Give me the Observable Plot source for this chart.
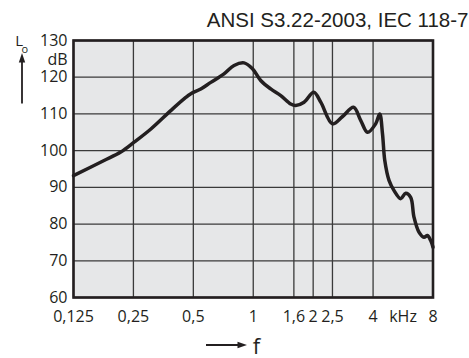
<!DOCTYPE html>
<html><head><meta charset="utf-8">
<script src="https://cdn.jsdelivr.net/npm/d3@7"></script>
<script src="https://cdn.jsdelivr.net/npm/@observablehq/plot@0.6"></script>
<style>html,body{margin:0;padding:0;background:#fff;}</style>
</head><body><div id="chart"></div>
<script>
// Frequency (kHz) and output level (dB)
const freqKHz = [0.125, 0.178, 0.216, 0.252, 0.306, 0.385, 0.458, 0.486, 0.545, 0.612, 0.713, 0.801, 0.899, 0.991, 1.09, 1.224, 1.375, 1.543, 1.635, 1.80, 2.014, 2.184, 2.50, 2.81, 3.19, 3.47, 3.75, 4.12, 4.32, 4.46, 4.58, 4.81, 5.10, 5.51, 5.83, 6.18, 6.42, 6.80, 7.21, 7.50, 7.79, 8.0];
const levelDB = [93.2, 97.3, 99.6, 102.3, 105.9, 110.9, 114.5, 115.5, 116.8, 118.6, 120.9, 123.2, 123.9, 122.3, 119.1, 116.8, 115.0, 112.7, 112.3, 113.2, 115.9, 113.2, 107.3, 109.3, 111.8, 108.2, 105.0, 107.3, 110.0, 104.6, 97.3, 91.9, 89.1, 86.9, 88.4, 87.3, 81.9, 77.8, 76.4, 76.9, 75.5, 73.7];
const gridFreqs = [0.125, 0.25, 0.5, 1, 1.6, 2, 2.5, 4, 8];
const xTickValues = [0.125, 0.25, 0.5, 1, 1.6, 2, 2.5, 4, 5.657, 8];
const xTickLabels = ["0,125", "0,25", "0,5", "1", "1,6", "2", "2,5", "4", "kHz", "8"];
const yTickValues = [60, 70, 80, 90, 100, 110, 120, 130];
const titleText = "ANSI S3.22-2003, IEC 118-7";
const yUnit = "dB";
const yName = "L";
const ySub = "o";
const xName = "f";

const data = freqKHz.map((f, i) => ({f, L: levelDB[i]}));
const ink = "#231f20";
const gridColor = "#3a3a3a";
const sansA = "'Liberation Sans', Arial, sans-serif";

const plot = Plot.plot({
  width: 469, height: 358,
  marginLeft: 73, marginRight: 36.5, marginTop: 40, marginBottom: 61,
  style: {fontFamily: "'Open Sans', sans-serif", fontSize: "16px", color: ink, background: "#fff", overflow: "visible"},
  x: {type: "log", domain: [0.125, 8], axis: null},
  y: {domain: [60, 130], axis: null},
  marks: [
    Plot.frame({fill: "#e6e7e8", stroke: null}),
    Plot.gridX(gridFreqs, {stroke: gridColor, strokeOpacity: 1, strokeWidth: 1.3}),
    Plot.gridY(yTickValues, {stroke: gridColor, strokeOpacity: 1, strokeWidth: 1.3}),
    Plot.line(data, {x: "f", y: "L", stroke: ink, strokeWidth: 3.5, curve: "catmull-rom", strokeLinejoin: "round"}),
    Plot.frame({stroke: ink, strokeWidth: 2.6}),
    Plot.text(xTickValues, {x: d => d, text: (d, i) => xTickLabels[i], frameAnchor: "bottom", dy: 13, lineAnchor: "top", textAnchor: "middle", fontSize: 16, fill: ink}),
    Plot.text(yTickValues, {y: d => d, text: d => String(d), frameAnchor: "left", dx: -6, textAnchor: "end", lineAnchor: "middle", fontSize: 16, fill: ink}),
    Plot.text([yUnit], {frameAnchor: "top-left", dx: -6, dy: 19, textAnchor: "end", lineAnchor: "middle", fontSize: 16, fill: ink}),
    Plot.text([yName], {frameAnchor: "top-left", dx: -54.3, dy: 0.5, textAnchor: "middle", lineAnchor: "middle", fontSize: 15, fill: ink}),
    Plot.text([ySub], {frameAnchor: "top-left", dx: -48.8, dy: 8.5, textAnchor: "middle", lineAnchor: "middle", fontSize: 11, fill: ink}),
    Plot.text([xName], {frameAnchor: "bottom-left", dx: 183, dy: 49, textAnchor: "middle", lineAnchor: "middle", fontSize: 22, fill: ink}),
    Plot.text([titleText], {frameAnchor: "top-right", dx: 35.5, dy: -20.5, textAnchor: "end", lineAnchor: "middle", fontSize: 20.5, fontFamily: sansA, fill: ink})
  ]
});
document.getElementById("chart").appendChild(plot);

// decorative axis arrows
const svg = d3.select(plot);
const g = svg.append("g").attr("fill", ink).attr("stroke", ink);
g.append("line").attr("x1", 22).attr("x2", 22).attr("y1", 103.5).attr("y2", 60).attr("stroke-width", 1.8);
g.append("polygon").attr("points", "22,53 18.8,62.5 25.2,62.5").attr("stroke", "none");
g.append("line").attr("x1", 206).attr("x2", 240).attr("y1", 345).attr("y2", 345).attr("stroke-width", 1.8);
g.append("polygon").attr("points", "247,345 237.5,341.8 237.5,348.2").attr("stroke", "none");
</script>
</body></html>
